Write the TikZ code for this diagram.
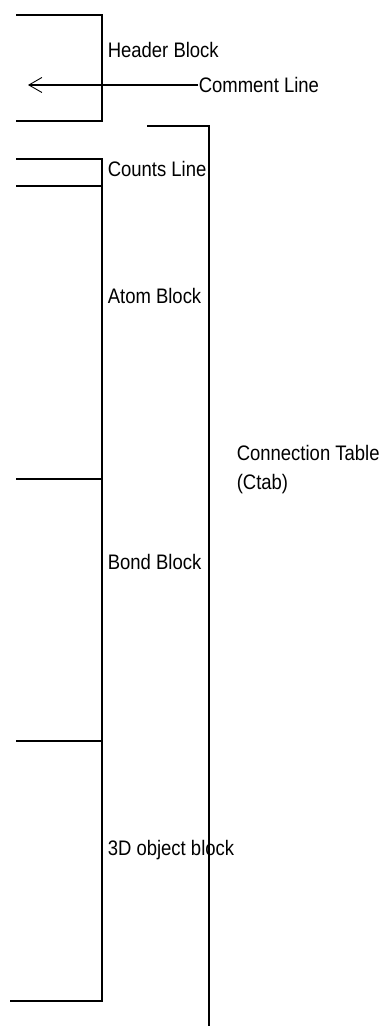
\documentclass[tikz,border=0pt]{standalone}
\usepackage{fontspec}
\setmainfont{Liberation Sans}[FakeStretch=0.88]
\usetikzlibrary{arrows.meta}

\begin{document}
\begin{tikzpicture}[x=1pt, y=-1pt, line width=1.6pt,
  lbl/.style={anchor=west, inner sep=0pt, font=\fontsize{21}{29}\selectfont, align=left}]
\useasboundingbox (0,0) rectangle (381,1027);

% header block
\draw (16,15) -- (102,15) -- (102,121) -- (16,121);
\node[lbl] (header) at (107,50) {Header Block};
\node[lbl] (comment) at (198,85) {Comment Line};
\coordinate (commenttip) at (28,85);
\draw[-{Straight Barb[length=13pt,width=15pt,line width=0.9pt]}] (comment.west) -- (commenttip);

% connection table
\draw (147,126) -- (209,126) -- (209,1026);
\node[lbl] (ctab) at (236,470) {Connection Table\\(Ctab)};

% blocks of the ctab
\draw (16,159) -- (102,159) -- (102,1001) -- (10,1001);
\draw (16,186) -- (102,186);
\draw (16,479) -- (102,479);
\draw (16,741) -- (102,741);

\node[lbl] (counts) at (107,169) {Counts Line};
\node[lbl] (atom) at (107,296) {Atom Block};
\node[lbl] (bond) at (107,562) {Bond Block};
\node[lbl] (obj3d) at (107,850) {3D object block};
\end{tikzpicture}
\end{document}
